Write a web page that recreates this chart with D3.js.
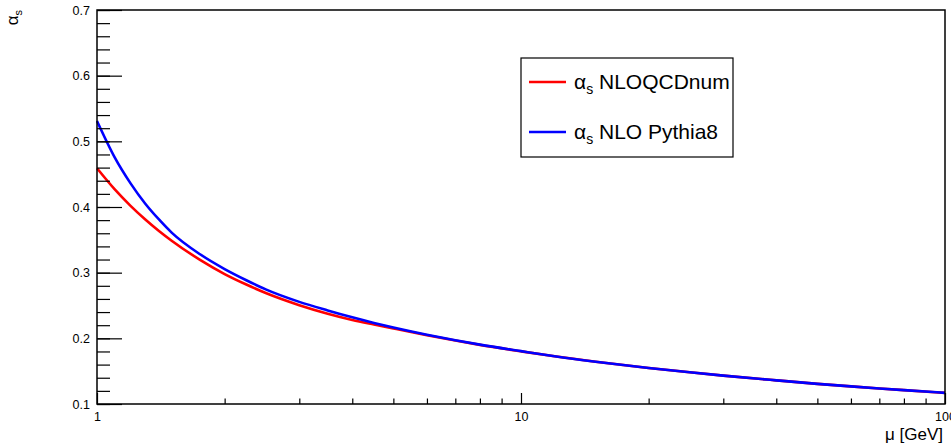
<!DOCTYPE html>
<html>
<head>
<meta charset="utf-8">
<script src="https://cdn.jsdelivr.net/npm/d3@7"></script>
<style>
  html, body { margin: 0; padding: 0; background: #fff; }
  svg { display: block; }
  text { font-family: "Liberation Sans", Arial, sans-serif; }
</style>
</head>
<body>
<svg id="chart" width="951" height="445"></svg>
<script>
// ---- data ----
const muValues = [1, 1.1, 1.2, 1.3, 1.4, 1.5, 1.75, 2, 2.25, 2.5, 3, 3.5, 4, 4.5, 5, 6, 7, 8, 10, 12, 15, 20, 25, 30, 40, 50, 60, 70, 80, 100];
const alphaNLOQCDnum = [0.459, 0.4272, 0.4018, 0.381, 0.3635, 0.3487, 0.3195, 0.2979, 0.2819, 0.2690, 0.2505, 0.2375, 0.2280, 0.2210, 0.2150, 0.2048, 0.1966, 0.1900, 0.1802, 0.1726, 0.1643, 0.1549, 0.1483, 0.1432, 0.1360, 0.1307, 0.1268, 0.1237, 0.1211, 0.1169];
const alphaPythia8 = [0.531, 0.476, 0.436, 0.405, 0.381, 0.361, 0.328, 0.3055, 0.2885, 0.2745, 0.2555, 0.2425, 0.2320, 0.2235, 0.2165, 0.2055, 0.1971, 0.1904, 0.1805, 0.1727, 0.1644, 0.1549, 0.1483, 0.1432, 0.1360, 0.1307, 0.1268, 0.1237, 0.1211, 0.1170];
const xMajorTicks = [1, 10, 100];
const xMinorTicks = [2, 3, 4, 5, 6, 7, 8, 9, 20, 30, 40, 50, 60, 70, 80, 90];
const yMajorTicks = [0.1, 0.2, 0.3, 0.4, 0.5, 0.6, 0.7];
const yMinorTicks = d3.range(0, 31).map(i => +(0.1 + i * 0.02).toFixed(2));
const seriesNames = ["NLOQCDnum", "NLO Pythia8"];
const seriesColors = ["#ff0000", "#0000ff"];

// ---- layout ----
const L = 97, R = 945, T = 10, B = 404;
const svg = d3.select("#chart");
const x = d3.scaleLog().domain([1, 100]).range([L, R]);
const y = d3.scaleLinear().domain([0.1, 0.7]).range([B, T]);

// curves
const series = [alphaNLOQCDnum, alphaPythia8];
const line = d3.line().x(d => x(d[0])).y(d => y(d[1])).curve(d3.curveMonotoneX);
series.forEach((vals, i) => {
  svg.append("path")
    .datum(muValues.map((m, j) => [m, vals[j]]))
    .attr("fill", "none")
    .attr("stroke", seriesColors[i])
    .attr("stroke-width", 2.6)
    .attr("d", line);
});

// y axis (ticks inward)
const yMajor = d3.axisLeft(y).tickValues(yMajorTicks).tickSize(-25).tickPadding(7).tickFormat(d3.format(".1f"));
const gy = svg.append("g").attr("transform", `translate(${L},0)`).call(yMajor);
const gy2 = svg.append("g").attr("transform", `translate(${L},0)`)
  .call(d3.axisLeft(y).tickValues(yMinorTicks).tickSize(-13).tickFormat(""));
// x axis
const gx = svg.append("g").attr("transform", `translate(0,${B})`)
  .call(d3.axisBottom(x).tickValues(xMajorTicks).tickSize(-11).tickPadding(8).tickFormat(d3.format("d")));
const gx2 = svg.append("g").attr("transform", `translate(0,${B})`)
  .call(d3.axisBottom(x).tickValues(xMinorTicks).tickSize(-5.5).tickFormat(""));

[gy, gy2, gx, gx2].forEach(g => {
  g.select(".domain").remove();
  g.selectAll(".tick line").attr("stroke", "#000").attr("stroke-width", 1.2);
  g.selectAll("text").attr("fill", "#000").style("font-family", "Liberation Sans, Arial, sans-serif");
});
gy.selectAll("text").style("font-size", "12.5px");
gx.selectAll("text").style("font-size", "12.5px");

// frame
svg.append("rect").attr("x", L).attr("y", T).attr("width", R - L).attr("height", B - T)
  .attr("fill", "none").attr("stroke", "#000").attr("stroke-width", 1.5);

// axis titles
svg.append("text").attr("x", 943).attr("y", 440).attr("text-anchor", "end")
  .style("font-size", "17px").text("μ [GeV]");
const yt = svg.append("text").attr("transform", "translate(18,10) rotate(-90)")
  .attr("text-anchor", "end").style("font-size", "17px");
yt.append("tspan").text("α");
yt.append("tspan").attr("dy", 4).style("font-size", "11px").text("s");

// legend
const lg = svg.append("g");
lg.append("rect").attr("x", 521).attr("y", 58).attr("width", 212).attr("height", 99)
  .attr("fill", "#fff").attr("stroke", "#000").attr("stroke-width", 1.2);
const rows = [82, 132];
seriesNames.forEach((name, i) => {
  lg.append("line").attr("x1", 529).attr("x2", 566).attr("y1", rows[i]).attr("y2", rows[i])
    .attr("stroke", seriesColors[i]).attr("stroke-width", 2.6);
  const t = lg.append("text").attr("x", 574).attr("y", rows[i] + 7).style("font-size", "21px");
  t.append("tspan").text("α");
  t.append("tspan").attr("dy", 5).style("font-size", "14px").text("s");
  t.append("tspan").attr("dy", -5).text(" " + name);
});
</script>
</body>
</html>
